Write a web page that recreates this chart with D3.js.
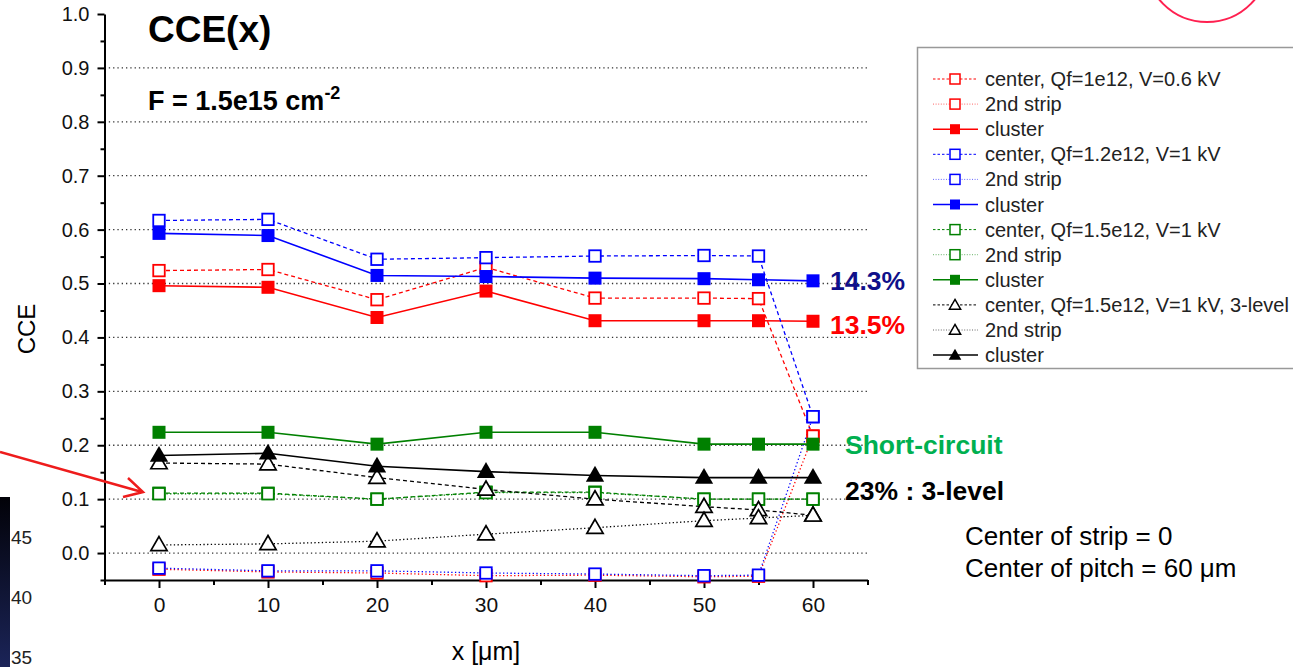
<!DOCTYPE html>
<html>
<head>
<meta charset="utf-8">
<script src="https://cdn.jsdelivr.net/npm/d3@7"></script>
<style>
  body { margin: 0; background: #fff; }
  text { font-family: Arial, "Liberation Sans", sans-serif; }
</style>
</head>
<body>
<div id="chart-area"></div>
<script>
/*
*    CCE(x) chart
*/

var width = 1293;
var height = 667;

// DATA
var xPos = [0, 10, 20, 30, 40, 50, 55, 60];
var xTicks = [0, 10, 20, 30, 40, 50, 60];
var yTicks = [0.0, 0.1, 0.2, 0.3, 0.4, 0.5, 0.6, 0.7, 0.8, 0.9, 1.0];

var redCenter   = [0.524, 0.526, 0.470, 0.530, 0.473, 0.473, 0.472, 0.217];
var redStrip    = [-0.030, -0.035, -0.037, -0.042, -0.041, -0.044, -0.043, 0.217];
var redCluster  = [0.496, 0.493, 0.437, 0.486, 0.431, 0.431, 0.431, 0.430];

var blueCenter  = [0.617, 0.619, 0.545, 0.548, 0.551, 0.552, 0.551, 0.253];
var blueStrip   = [-0.028, -0.033, -0.033, -0.037, -0.039, -0.042, -0.041, 0.253];
var blueCluster = [0.593, 0.589, 0.515, 0.513, 0.510, 0.509, 0.507, 0.505];

var greenCenter  = [0.111, 0.111, 0.100, 0.113, 0.113, 0.100, 0.100, 0.100];
var greenStrip   = [0.110, 0.110, 0.100, 0.112, 0.112, 0.100, 0.100, 0.100];
var greenCluster = [0.224, 0.224, 0.202, 0.224, 0.224, 0.202, 0.202, 0.202];

var blackCenter  = [0.167, 0.165, 0.140, 0.118, 0.100, 0.086, 0.080, 0.070];
var blackStrip   = [0.015, 0.017, 0.022, 0.035, 0.047, 0.060, 0.065, 0.070];
var blackCluster = [0.181, 0.185, 0.161, 0.151, 0.144, 0.140, 0.140, 0.140];

var legendLabels = [
  "center, Qf=1e12, V=0.6 kV", "2nd strip", "cluster",
  "center, Qf=1.2e12, V=1 kV", "2nd strip", "cluster",
  "center, Qf=1.5e12, V=1 kV", "2nd strip", "cluster",
  "center, Qf=1.5e12, V=1 kV, 3-level", "2nd strip", "cluster"
];

var RED = "#ff0000", BLUE = "#0000ff", GREEN = "#008000", BLACK = "#000000";
var DASH = "4,3", DOT = "1.3,2.4";

var series = [
  {values: redCenter,    color: RED,   dash: DASH, shape: "square",   filled: false},
  {values: redStrip,     color: RED,   dash: DOT,  shape: "square",   filled: false},
  {values: redCluster,   color: RED,   dash: null, shape: "square",   filled: true},
  {values: blueCenter,   color: BLUE,  dash: DASH, shape: "square",   filled: false},
  {values: blueStrip,    color: BLUE,  dash: DOT,  shape: "square",   filled: false},
  {values: blueCluster,  color: BLUE,  dash: null, shape: "square",   filled: true},
  {values: greenCenter,  color: GREEN, dash: DASH, shape: "square",   filled: false},
  {values: greenStrip,   color: GREEN, dash: DOT,  shape: "square",   filled: false},
  {values: greenCluster, color: GREEN, dash: null, shape: "square",   filled: true},
  {values: blackCenter,  color: BLACK, dash: DASH, shape: "triangle", filled: false},
  {values: blackStrip,   color: BLACK, dash: DOT,  shape: "triangle", filled: false},
  {values: blackCluster, color: BLACK, dash: null, shape: "triangle", filled: true}
];

var svg = d3.select("#chart-area").append("svg")
.attr("width", width)
.attr("height", height)

var x = d3.scaleLinear()
.domain([-5, 65])
.range([104.5, 867.5])

var y = d3.scaleLinear()
.domain([-0.05, 1.0])
.range([580, 14])

// Gridlines
svg.append("g")
.selectAll("line")
.data(yTicks.filter(d => d < 0.95))
.enter().append("line")
.attr("x1", x(-5))
.attr("x2", x(65))
.attr("y1", d => y(d))
.attr("y2", d => y(d))
.attr("stroke", "#333")
.attr("stroke-width", 1.3)
.attr("stroke-dasharray", "1.3,3")

// Axes
var xAxisGroup = svg.append("g")
.attr("transform", "translate(0, " + y(-0.05) + ")")
.call(d3.axisBottom(x).tickValues(xTicks).tickSize(8).tickSizeOuter(0).tickPadding(9))

svg.append("g")
.attr("transform", "translate(0, " + y(-0.05) + ")")
.call(d3.axisBottom(x).tickValues([-5, 5, 15, 25, 35, 45, 55, 65]).tickSize(5).tickSizeOuter(0).tickFormat(""))
.select(".domain").remove()

var yAxisGroup = svg.append("g")
.attr("transform", "translate(" + x(-5) + ", 0)")
.call(d3.axisLeft(y).tickValues(yTicks).tickSize(7).tickSizeOuter(0).tickPadding(8).tickFormat(d3.format(".1f")))

svg.append("g")
.attr("transform", "translate(" + x(-5) + ", 0)")
.call(d3.axisLeft(y).tickValues([-0.05, 0.05, 0.15, 0.25, 0.35, 0.45, 0.55, 0.65, 0.75, 0.85, 0.95]).tickSize(4).tickSizeOuter(0).tickFormat(""))
.select(".domain").remove()

svg.selectAll(".domain, .tick line")
.attr("stroke", "#000")
.attr("stroke-width", 2)

xAxisGroup.selectAll("text")
.attr("font-size", "21px")
.attr("font-family", "Arial, 'Liberation Sans', sans-serif")
.attr("fill", "#111")

yAxisGroup.selectAll("text")
.attr("font-size", "20px")
.attr("font-family", "Arial, 'Liberation Sans', sans-serif")
.attr("fill", "#111")

// Axis labels
svg.append("text")
.attr("x", 486)
.attr("y", 660)
.attr("font-size", "25px")
.attr("text-anchor", "middle")
.text("x [μm]")

svg.append("text")
.attr("transform", "translate(35, 329) rotate(-90)")
.attr("font-size", "24px")
.attr("text-anchor", "middle")
.text("CCE")

// Lines and markers
var line = d3.line()
.x((d, i) => x(xPos[i]))
.y(d => y(d))

series.forEach(s => {
  svg.append("path")
  .attr("d", line(s.values))
  .attr("fill", "none")
  .attr("stroke", s.color)
  .attr("stroke-width", s.dash ? 1.3 : 1.6)
  .attr("stroke-dasharray", s.dash)
})

var triangle = d3.symbol().type(d3.symbolTriangle)

series.forEach(s => {
  var g = svg.append("g")
  if (s.shape === "square") {
    var size = s.filled ? 13 : 11.5
    g.selectAll("rect")
    .data(s.values)
    .enter().append("rect")
    .attr("x", (d, i) => x(xPos[i]) - size / 2)
    .attr("y", d => y(d) - size / 2)
    .attr("width", size)
    .attr("height", size)
    .attr("fill", s.filled ? s.color : "#fff")
    .attr("stroke", s.color)
    .attr("stroke-width", s.filled ? 0 : 1.8)
  } else {
    g.selectAll("path")
    .data(s.values)
    .enter().append("path")
    .attr("d", triangle.size(s.filled ? 145 : 115)())
    .attr("transform", (d, i) => "translate(" + x(xPos[i]) + "," + (y(d) + 1) + ")")
    .attr("fill", s.filled ? s.color : "#fff")
    .attr("stroke", s.color)
    .attr("stroke-width", s.filled ? 0 : 1.7)
  }
})

// Titles
svg.append("text")
.attr("x", 148)
.attr("y", 42)
.attr("font-size", "37px")
.attr("font-weight", "bold")
.text("CCE(x)")

var fText = svg.append("text")
.attr("x", 148)
.attr("y", 110)
.attr("font-size", "27px")
.attr("font-weight", "bold")
fText.append("tspan").text("F = 1.5e15 cm")
fText.append("tspan").attr("font-size", "18px").attr("dy", -11).text("-2")

// Annotations
var notes = [
  {t: "14.3%", x: 830, y: 290, c: "#10108a"},
  {t: "13.5%", x: 830, y: 334, c: "#ff0000"},
  {t: "Short-circuit", x: 845, y: 454, c: "#00b050"},
  {t: "23% : 3-level", x: 845, y: 500, c: "#000"}
]
svg.selectAll(".note")
.data(notes)
.enter().append("text")
.attr("class", "note")
.attr("x", d => d.x)
.attr("y", d => d.y)
.attr("font-size", "26.5px")
.attr("font-weight", "bold")
.attr("fill", d => d.c)
.text(d => d.t)

svg.append("text")
.attr("x", 965)
.attr("y", 545)
.attr("font-size", "26px")
.text("Center of strip = 0")

svg.append("text")
.attr("x", 965)
.attr("y", 577)
.attr("font-size", "26px")
.text("Center of pitch = 60 μm")

// Legend
var legend = svg.append("g")

legend.append("rect")
.attr("x", 917.5)
.attr("y", 47.5)
.attr("width", 400)
.attr("height", 321)
.attr("fill", "#fff")
.attr("stroke", "#999")
.attr("stroke-width", 1.5)

var legendRows = legend.selectAll(".row")
.data(series)
.enter().append("g")
.attr("class", "row")
.attr("transform", (d, i) => "translate(0, " + (79 + i * 25.1) + ")")

legendRows.append("line")
.attr("x1", 933)
.attr("x2", 978)
.attr("stroke", d => d.color)
.attr("stroke-width", d => d.dash ? 1 : 1.5)
.attr("stroke-dasharray", d => d.dash === DASH ? "2.5,2" : d.dash === DOT ? "1,1.6" : null)
.attr("opacity", d => d.dash === DOT ? 0.6 : 1)

legendRows.append("rect")
.attr("x", 950)
.attr("y", -5)
.attr("width", 10)
.attr("height", 10)
.attr("fill", d => d.filled ? d.color : "#fff")
.attr("stroke", d => d.color)
.attr("stroke-width", d => d.filled ? 0 : 1.5)
.style("display", d => d.shape === "square" ? null : "none")

legendRows.append("path")
.attr("d", d => triangle.size(d.filled ? 70 : 55)())
.attr("transform", "translate(955, 1)")
.attr("fill", d => d.filled ? d.color : "#fff")
.attr("stroke", d => d.color)
.attr("stroke-width", d => d.filled ? 0 : 1.5)
.style("display", d => d.shape === "triangle" ? null : "none")

legendRows.append("text")
.attr("x", 985)
.attr("y", 7)
.attr("font-size", "20px")
.attr("fill", "#222")
.text((d, i) => legendLabels[i])

// Left decoration: colour bar and arrow
var grad = svg.append("defs").append("linearGradient")
.attr("id", "cbar")
.attr("x1", 0).attr("x2", 0).attr("y1", 0).attr("y2", 1)
grad.append("stop").attr("offset", "0%").attr("stop-color", "#020208")
grad.append("stop").attr("offset", "100%").attr("stop-color", "#1b2458")

svg.append("rect")
.attr("x", 0)
.attr("y", 497)
.attr("width", 10)
.attr("height", 170)
.attr("fill", "url(#cbar)")

svg.selectAll(".cbl")
.data([["45", 544], ["40", 604], ["35", 664]])
.enter().append("text")
.attr("class", "cbl")
.attr("x", 11)
.attr("y", d => d[1])
.attr("font-size", "19px")
.attr("fill", "#222")
.text(d => d[0])

svg.append("path")
.attr("d", "M0,452 L142,492 M128,478 L143,492 L123,497")
.attr("fill", "none")
.attr("stroke", "#ee1c1c")
.attr("stroke-width", 2.5)

// Top-right circle
svg.append("circle")
.attr("cx", 1207)
.attr("cy", -40)
.attr("r", 62)
.attr("fill", "none")
.attr("stroke", "#ff2050")
.attr("stroke-width", 2)
</script>
</body>
</html>
